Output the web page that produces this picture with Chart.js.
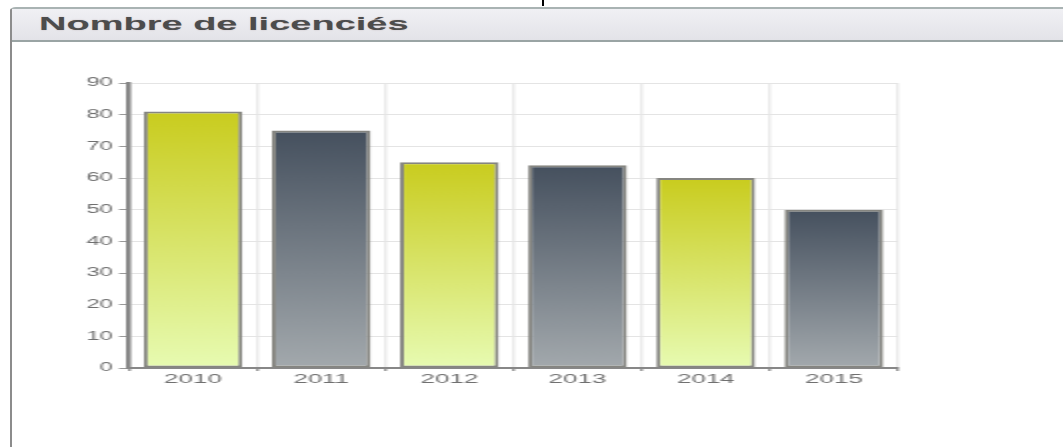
<!DOCTYPE html>
<html>
<head>
<meta charset="utf-8">
<script src="https://cdn.jsdelivr.net/npm/chart.js@4"></script>
<style>
    html, body { margin: 0; padding: 0; background: #fff; overflow: hidden; }
    body { width: 1063px; height: 447px; position: relative; }
    /* the reference is stretched 2x horizontally, so draw narrow and stretch */
    #stretch {
        position: absolute; left: 0; top: 0;
        width: 531.5px; height: 447px;
        transform: scaleX(2); transform-origin: 0 0;
    }
    #panel {
        position: absolute; left: 4.5px; top: 7px; right: 0; bottom: -5px;
        border-left: 1px solid #8c8c8c;
        border-top: 2px solid #a9b3b3;
        border-top-left-radius: 3px;
    }
    #header {
        height: 31px;
        background: linear-gradient(#f0f0f4, #e3e3e8);
        border-bottom: 2px solid #9aa4a4;
        font-family: "Liberation Sans", Arial, sans-serif;
        font-weight: bold;
        font-size: 19px;
        color: #4c4c4c;
        line-height: 30px;
        padding-left: 14px;
        text-shadow: 0 0 1px rgba(120, 90, 90, 0.4);
    }
    #mark { position: absolute; left: 271px; top: 0; width: 1px; height: 6px; background: #000; }
    #chartBox { position: absolute; left: 20px; top: 60px; width: 450px; height: 340px; }
</style>
</head>
<body>
<div id="stretch">
    <div id="panel"><div id="header">Nombre de licenciés</div></div>
    <div id="mark"></div>
    <div id="chartBox"><canvas id="licChart"></canvas></div>
</div>
<script>
// Nombre de licenciés par année
const years = ['2010', '2011', '2012', '2013', '2014', '2015'];
const licencies = [81, 75, 65, 64, 60, 50];
// alternating bar themes: 'lime' / 'slate'
const barThemes = ['lime', 'slate', 'lime', 'slate', 'lime', 'slate'];
const yMin = 0, yMax = 90, yStep = 10;

const themeStops = {
    lime: ['#c9cc1e', '#e7fbb2'],
    slate: ['#45505e', '#a3a9ad']
};

function barGradient(context) {
    const chart = context.chart;
    if (!chart.chartArea) return '#ccc';
    const y = chart.scales.y;
    const top = y.getPixelForValue(licencies[context.dataIndex]);
    const bottom = y.getPixelForValue(0);
    const stops = themeStops[barThemes[context.dataIndex]];
    const g = chart.ctx.createLinearGradient(0, top, 0, bottom);
    g.addColorStop(0, stops[0]);
    g.addColorStop(1, stops[1]);
    return g;
}

const ctx = document.getElementById('licChart').getContext('2d');
new Chart(ctx, {
    type: 'bar',
    data: {
        labels: years,
        datasets: [{
            data: licencies,
            backgroundColor: barGradient,
            borderColor: '#858580',
            borderWidth: 2,
            borderSkipped: false,
            barPercentage: 0.77,
            categoryPercentage: 1
        }]
    },
    options: {
        responsive: true,
        maintainAspectRatio: false,
        animation: false,
        layout: { padding: { top: 23, right: 21, left: 0, bottom: 0 } },
        plugins: { legend: { display: false }, tooltip: { enabled: false } },
        scales: {
            x: {
                offset: true,
                afterFit: s => { s.height = 32; },
                grid: {
                    offset: true,
                    color: '#ebebeb',
                    lineWidth: 1.5,
                    tickLength: 3,
                    tickColor: '#999'
                },
                border: { color: '#878787', width: 2 },
                ticks: {
                    color: '#707070',
                    padding: 1,
                    font: { family: '"Liberation Sans", Arial, sans-serif', size: 13 }
                }
            },
            y: {
                min: yMin,
                max: yMax,
                afterFit: s => { s.width = 44.5; },
                grid: {
                    color: '#e4e4e4',
                    lineWidth: 1,
                    tickLength: 5,
                    tickColor: '#999'
                },
                border: { color: '#878787', width: 2.5 },
                ticks: {
                    stepSize: yStep,
                    color: '#707070',
                    padding: 3,
                    font: { family: '"Liberation Sans", Arial, sans-serif', size: 12 }
                }
            }
        }
    }
});
</script>
</body>
</html>
